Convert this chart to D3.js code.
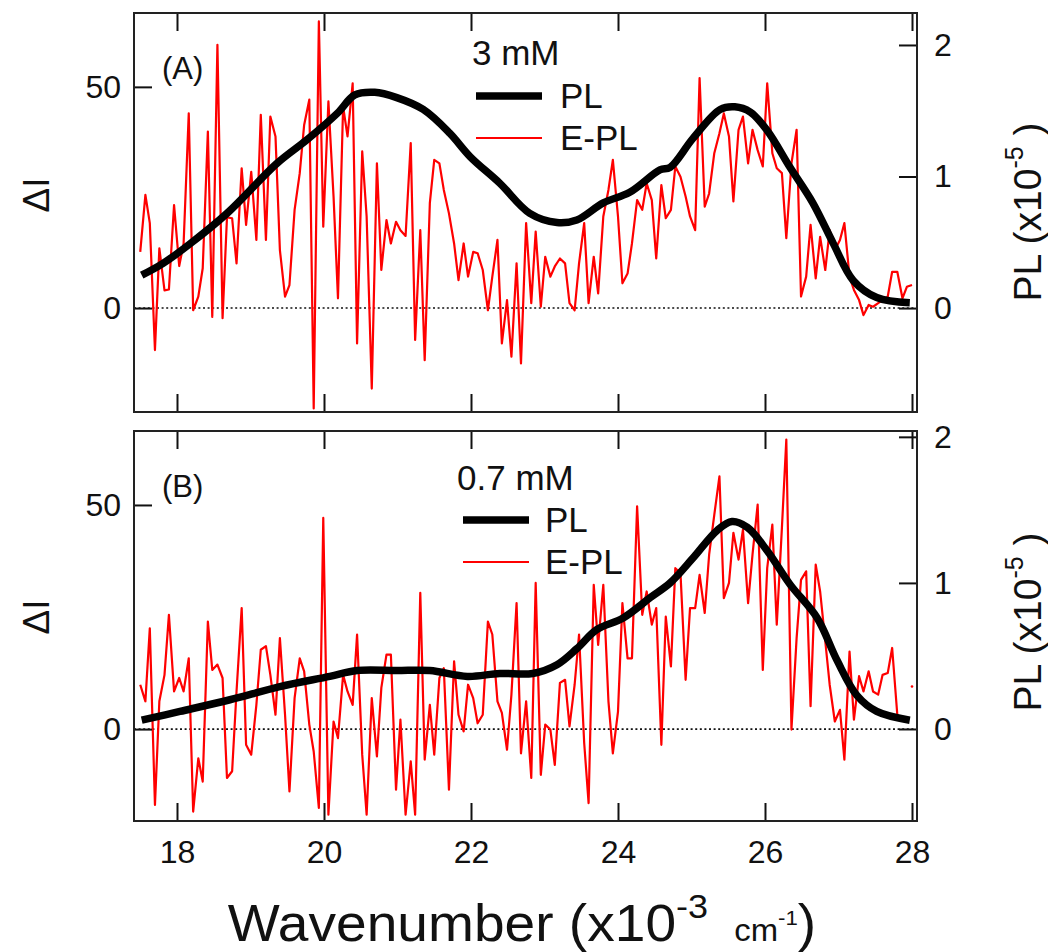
<!DOCTYPE html>
<html>
<head>
<meta charset="UTF-8">
<title>E-PL spectra</title>
<script src="https://d3js.org/d3.v7.min.js"></script>
<style>
  body { margin: 0; background: #fff; }
  text { font-family: "Liberation Sans", Arial, sans-serif; fill: #111; }
</style>
</head>
<body>
<svg id="chart"></svg>
<script>
// wavenumber grid (x10^3 cm^-1) shared by both E-PL traces
const wn = [
  17.50,17.57,17.63,17.70,17.76,17.83,17.89,17.96,18.03,18.09,
  18.16,18.22,18.29,18.35,18.42,18.48,18.55,18.62,18.68,18.75,
  18.81,18.88,18.94,19.01,19.08,19.14,19.21,19.27,19.34,19.40,
  19.47,19.53,19.60,19.67,19.73,19.80,19.86,19.93,19.99,20.06,
  20.13,20.19,20.26,20.32,20.39,20.45,20.52,20.58,20.65,20.72,
  20.78,20.85,20.91,20.98,21.04,21.11,21.18,21.24,21.31,21.37,
  21.44,21.50,21.57,21.63,21.70,21.77,21.83,21.90,21.96,22.03,
  22.09,22.16,22.23,22.29,22.36,22.42,22.49,22.55,22.62,22.68,
  22.75,22.82,22.88,22.95,23.01,23.08,23.14,23.21,23.28,23.34,
  23.41,23.47,23.54,23.60,23.67,23.73,23.80,23.87,23.93,24.00,
  24.06,24.13,24.19,24.26,24.33,24.39,24.46,24.52,24.59,24.65,
  24.72,24.78,24.85,24.92,24.98,25.05,25.11,25.18,25.24,25.31,
  25.38,25.44,25.51,25.57,25.64,25.70,25.77,25.83,25.90,25.97,
  26.03,26.10,26.16,26.23,26.29,26.36,26.43,26.49,26.56,26.62,
  26.69,26.75,26.82,26.88,26.95,27.02,27.08,27.15,27.21,27.28,
  27.34,27.41,27.47,27.54,27.60,27.67,27.73,27.80,27.87,27.93,
  28.00
];

// E-PL (delta I), 3 mM
const eplA = [
  12.7,25.6,19.2,-9.5,13.5,4.0,4.2,23.3,9.5,14.6,
  44.0,-0.5,2.6,9.0,39.9,-2.0,59.5,-2.3,20.5,20.3,
  10.1,31.6,18.8,30.8,15.4,43.7,15.4,43.3,38.8,13.1,
  2.6,5.2,22.2,30.5,41.4,47.1,-22.7,64.8,18.4,46.7,
  25.2,2.2,45.6,38.8,50.8,-8.0,35.4,20.7,-18.2,32.7,
  8.6,19.9,14.6,19.5,17.6,16.3,37.3,-7.2,17.6,-11.8,
  23.7,33.5,32.7,26.7,21.4,14.6,6.3,14.6,7.1,12.7,
  12.4,8.6,-0.5,7.1,15.4,-8.0,1.8,-11.0,10.1,-12.5,
  19.2,1.1,17.3,0.3,11.6,7.1,9.4,11.2,10.1,1.1,
  -0.5,10.1,19.2,1.1,11.6,3.3,20.7,26.7,33.5,20.7,
  5.6,7.8,14.6,24.4,22.2,28.2,24.4,11.2,27.8,20.3,
  22.2,32.0,29.7,25.2,20.7,17.6,52.0,22.9,25.9,35.0,
  39.5,44.0,38.8,24.1,40.3,43.3,32.7,40.3,35.7,32.0,
  50.8,35.0,31.6,30.5,15.8,32.7,40.3,2.6,7.1,18.8,
  6.7,16.1,8.6,17.6,13.1,15.4,19.2,7.1,4.1,1.8,
  -1.6,0.7,0.3,1.1,1.8,2.6,8.2,8.2,2.2,4.8,
  5.2
];

// E-PL (delta I), 0.7 mM  (null = no data)
const eplB = [
  9.9,6.2,22.5,-16.9,6.2,12.1,25.5,8.4,11.4,8.4,
  15.8,-18.4,-6.5,-11.7,24.0,13.2,14.4,11.4,-10.9,-9.4,
  8.4,27.0,-3.5,-5.7,5.4,17.7,18.5,12.1,3.2,20.3,
  3.2,-13.9,6.9,15.8,12.9,1.0,-5.0,-17.6,47.1,-19.1,
  1.7,-2.0,12.1,8.4,5.4,21.1,-5.7,-19.1,6.9,-6.1,
  9.2,16.6,16.6,-13.5,2.1,-19.1,-7.2,-19.1,30.4,-6.8,
  5.4,-5.7,11.4,13.6,-13.5,15.1,3.2,-0.5,9.9,6.9,
  1.3,3.2,24.0,21.1,6.2,3.6,-4.6,7.7,28.1,-5.4,
  6.2,-10.9,32.6,-10.2,1.0,-0.1,-8.0,10.3,11.0,0.6,
  9.9,21.1,-3.1,-16.5,32.2,18.8,32.2,6.2,-5.4,3.9,
  28.1,15.8,15.8,49.7,25.5,30.7,23.3,27.0,-3.5,25.1,
  14.0,35.9,34.8,11.0,27.0,27.0,34.4,25.9,38.9,47.8,
  56.4,29.2,32.6,43.8,37.8,44.5,28.1,38.9,50.1,13.2,
  35.9,45.6,23.3,44.9,64.6,-0.1,20.3,33.3,35.2,5.1,
  36.7,30.7,19.6,9.9,1.7,4.3,-6.8,17.3,2.1,11.8,
  8.4,12.9,8.4,7.7,12.1,12.5,18.1,3.2,null,null,
  9.5
];

// PL (x10^-5), right axis
const plA_x = [17.52,17.81,18.18,18.68,19.36,19.77,20.18,20.42,20.69,20.99,21.35,21.71,21.99,22.39,22.80,23.17,
               23.44,23.80,24.16,24.57,24.71,25.02,25.39,25.59,25.80,26.03,26.34,26.65,26.93,27.20,27.52,27.97];
const plA   = [0.25,0.34,0.49,0.72,1.10,1.28,1.48,1.62,1.64,1.60,1.51,1.33,1.15,0.95,0.72,0.65,
               0.67,0.80,0.88,1.05,1.07,1.29,1.51,1.53,1.49,1.35,1.07,0.80,0.49,0.21,0.08,0.04];
const plB_x = [17.52,18.04,18.72,19.40,20.08,20.45,20.99,21.44,21.95,22.39,22.84,23.17,23.44,23.71,
               24.07,24.44,24.71,25.02,25.35,25.55,25.76,26.03,26.34,26.71,26.98,27.25,27.52,27.97];
const plB   = [0.06,0.12,0.20,0.29,0.36,0.40,0.40,0.40,0.36,0.38,0.38,0.44,0.55,0.68,
               0.76,0.90,1.00,1.17,1.36,1.42,1.38,1.22,0.99,0.76,0.47,0.23,0.12,0.06];

const xTicks = [18, 20, 22, 24, 26, 28];
const leftTicks = [0, 50];
const rightTicks = [0, 1, 2];

const width = 1048, height = 952;
const left = 134, right = 917;
const red = "#ff0000";

const svg = d3.select("#chart")
  .attr("width", width)
  .attr("height", height);

const x = d3.scaleLinear().domain([17.415, 28.068]).range([left, right]);

const panels = [
  {id: "A", top: 13, bottom: 412, yL: [-23.5, 66.7], yR: [-0.79, 2.243],
   epl: eplA, plx: plA_x, pl: plA, tag: "(A)", conc: "3 mM",
   leg: {cx: 472, cy: 65, lx: 476, ly: 96, tx: 560}, ylab: 195, plLab: 212},
  {id: "B", top: 431, bottom: 821, yL: [-20.5, 66.5], yR: [-0.63, 2.04],
   epl: eplB, plx: plB_x, pl: plB, tag: "(B)", conc: "0.7 mM",
   leg: {cx: 457, cy: 490, lx: 463, ly: 520, tx: 545}, ylab: 617, plLab: 622}
];

panels.forEach((p, k) => {
  const yL = d3.scaleLinear().domain(p.yL).range([p.bottom, p.top]);
  const yR = d3.scaleLinear().domain(p.yR).range([p.bottom, p.top]);
  const g = svg.append("g");

  g.append("clipPath").attr("id", "clip" + p.id)
    .append("rect")
    .attr("x", left).attr("y", p.top)
    .attr("width", right - left).attr("height", p.bottom - p.top);

  const body = g.append("g").attr("clip-path", `url(#clip${p.id})`);

  // zero line
  body.append("line")
    .attr("x1", left).attr("x2", right)
    .attr("y1", yL(0)).attr("y2", yL(0))
    .attr("stroke", "#111").attr("stroke-width", 1.6)
    .attr("stroke-dasharray", "2,2.6");

  // E-PL trace
  const pts = wn.map((w, i) => ({x: w, y: p.epl[i]}));
  const ln = d3.line()
    .defined(d => d.y != null)
    .x(d => x(d.x)).y(d => yL(d.y));
  body.append("path")
    .datum(pts)
    .attr("d", ln)
    .attr("fill", "none")
    .attr("stroke", red)
    .attr("stroke-width", 2.2)
    .attr("stroke-linejoin", "round");

  // lonely points (no neighbours) get a dot
  const lonely = pts.filter((d, i) => d.y != null &&
    (i === 0 || pts[i - 1].y == null) && (i === pts.length - 1 || pts[i + 1].y == null));
  body.selectAll("circle.lone").data(lonely).enter()
    .append("circle")
    .attr("cx", d => x(d.x)).attr("cy", d => yL(d.y))
    .attr("r", 1.3).attr("fill", red);

  // PL curve
  const plPts = p.plx.map((w, i) => ({x: w, y: p.pl[i]}));
  body.append("path")
    .datum(plPts)
    .attr("d", d3.line().curve(d3.curveCatmullRom.alpha(0.5)).x(d => x(d.x)).y(d => yR(d.y)))
    .attr("fill", "none")
    .attr("stroke", "#000")
    .attr("stroke-width", 7.5)
    .attr("stroke-linecap", "butt")
    .attr("stroke-linejoin", "round");

  // axes (ticks point inward)
  const ax = g.append("g").attr("class", "axes");
  ax.append("g")
    .attr("transform", `translate(${left},0)`)
    .call(d3.axisLeft(yL).tickValues(leftTicks).tickSize(-18).tickPadding(13).tickFormat(d3.format("d")));
  ax.append("g")
    .attr("transform", `translate(${right},0)`)
    .call(d3.axisRight(yR).tickValues(rightTicks).tickSize(-18).tickPadding(17).tickFormat(d3.format("d")));
  ax.append("g")
    .attr("transform", `translate(0,${p.top})`)
    .call(d3.axisTop(x).tickValues(xTicks).tickSize(-18).tickFormat(""));
  ax.append("g")
    .attr("transform", `translate(0,${p.bottom})`)
    .call(d3.axisBottom(x).tickValues(xTicks).tickSize(-18).tickPadding(19)
      .tickFormat(k === panels.length - 1 ? d3.format("d") : ""));

  ax.selectAll(".domain").remove();
  ax.selectAll(".tick line").attr("stroke", "#111").attr("stroke-width", 2);
  ax.selectAll(".tick text").attr("fill", "#111").attr("font-size", 32);

  // frame
  g.append("rect")
    .attr("x", left).attr("y", p.top)
    .attr("width", right - left).attr("height", p.bottom - p.top)
    .attr("fill", "none").attr("stroke", "#222").attr("stroke-width", 2);

  // panel tag
  g.append("text")
    .attr("x", 162).attr("y", p.top + 66)
    .attr("font-size", 31)
    .text(p.tag);

  // legend
  g.append("text")
    .attr("x", p.leg.cx).attr("y", p.leg.cy)
    .attr("font-size", 35)
    .text(p.conc);
  g.append("line")
    .attr("x1", p.leg.lx).attr("x2", p.leg.lx + 66)
    .attr("y1", p.leg.ly).attr("y2", p.leg.ly)
    .attr("stroke", "#000").attr("stroke-width", 7.5);
  g.append("text")
    .attr("x", p.leg.tx).attr("y", p.leg.ly + 12)
    .attr("font-size", 35)
    .text("PL");
  g.append("line")
    .attr("x1", p.leg.lx).attr("x2", p.leg.lx + 66)
    .attr("y1", p.leg.ly + 42).attr("y2", p.leg.ly + 42)
    .attr("stroke", red).attr("stroke-width", 2.2);
  g.append("text")
    .attr("x", p.leg.tx).attr("y", p.leg.ly + 54)
    .attr("font-size", 35)
    .text("E-PL");

  // left axis label
  g.append("text")
    .attr("transform", `translate(49,${p.ylab})rotate(-90)`)
    .attr("text-anchor", "middle")
    .attr("font-size", 37)
    .text("ΔI");

  // right axis label
  const rl = g.append("text")
    .attr("transform", `translate(1041,${p.plLab})rotate(-90)`)
    .attr("text-anchor", "middle")
    .attr("font-size", 39);
  rl.append("tspan").text("PL (x10");
  rl.append("tspan").attr("font-size", 25).attr("dy", -18).text("-5");
  rl.append("tspan").attr("dy", 18).text(" )");
});

// x axis title
const xt = svg.append("text")
  .attr("x", 522).attr("y", 941)
  .attr("text-anchor", "middle")
  .attr("font-size", 52)
  .attr("transform", "translate(522,0) scale(1.06,1) translate(-522,0)");
xt.append("tspan").text("Wavenumber (x10");
xt.append("tspan").attr("font-size", 34).attr("dy", -23).text("-3");
xt.append("tspan").attr("font-size", 31).attr("dy", 23).attr("dx", 16).text(" cm");
xt.append("tspan").attr("font-size", 21).attr("dy", -16).text("-1");
xt.append("tspan").attr("dy", 16).text(")");
</script>
</body>
</html>
